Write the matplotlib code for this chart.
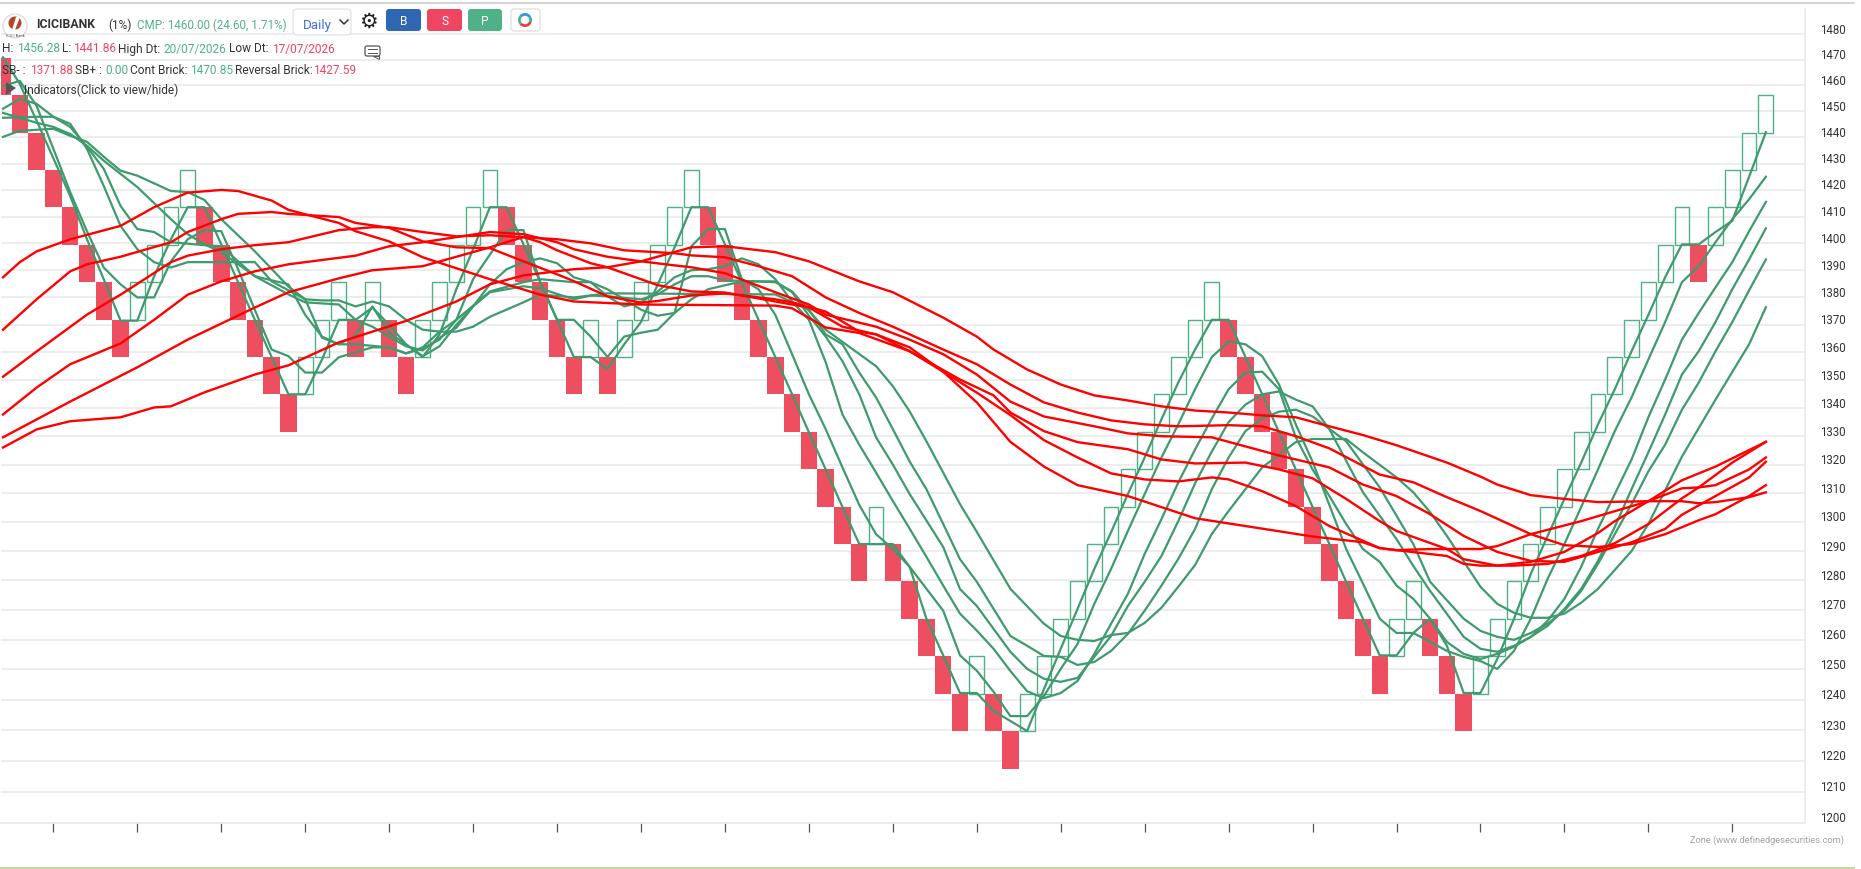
#!/usr/bin/env python3
import matplotlib
matplotlib.use('Agg')
import matplotlib.pyplot as plt
from matplotlib.patches import Circle, FancyBboxPatch, Polygon, Rectangle, Wedge
from matplotlib.ticker import NullLocator, NullFormatter

plt.rcParams['font.family'] = ['Roboto', 'DejaVu Sans']

# renko bricks, 1% box on a log scale
brick_open = [1470.85, 1456.28, 1441.86, 1427.59, 1413.46, 1399.47, 1385.62, 1371.90, 1371.90, 1385.62,
              1399.47, 1413.46, 1413.46, 1399.47, 1385.62, 1371.90, 1358.32, 1344.87, 1344.87, 1358.32,
              1371.90, 1371.90, 1371.90, 1371.90, 1358.32, 1358.32, 1371.90, 1385.62, 1399.47, 1413.46,
              1413.46, 1399.47, 1385.62, 1371.90, 1358.32, 1358.32, 1358.32, 1358.32, 1371.90, 1385.62,
              1399.47, 1413.46, 1413.46, 1399.47, 1385.62, 1371.90, 1358.32, 1344.87, 1331.56, 1318.37,
              1305.32, 1292.40, 1292.40, 1292.40, 1279.60, 1266.93, 1254.39, 1241.97, 1241.97, 1241.97,
              1229.67, 1229.67, 1241.97, 1254.39, 1266.93, 1279.60, 1292.40, 1305.32, 1318.37, 1331.56,
              1344.87, 1358.32, 1371.90, 1371.90, 1358.32, 1344.87, 1331.56, 1318.37, 1305.32, 1292.40,
              1279.60, 1266.93, 1254.39, 1254.39, 1266.93, 1266.93, 1254.39, 1241.97, 1241.97, 1254.39,
              1266.93, 1279.60, 1292.40, 1305.32, 1318.37, 1331.56, 1344.87, 1358.32, 1371.90, 1385.62,
              1399.47, 1399.47, 1399.47, 1413.46, 1427.59, 1441.86]
brick_close = [1456.28, 1441.86, 1427.59, 1413.46, 1399.47, 1385.62, 1371.90, 1358.32, 1385.62, 1399.47,
               1413.46, 1427.59, 1399.47, 1385.62, 1371.90, 1358.32, 1344.87, 1331.56, 1358.32, 1371.90,
               1385.62, 1358.32, 1385.62, 1358.32, 1344.87, 1371.90, 1385.62, 1399.47, 1413.46, 1427.59,
               1399.47, 1385.62, 1371.90, 1358.32, 1344.87, 1371.90, 1344.87, 1371.90, 1385.62, 1399.47,
               1413.46, 1427.59, 1399.47, 1385.62, 1371.90, 1358.32, 1344.87, 1331.56, 1318.37, 1305.32,
               1292.40, 1279.60, 1305.32, 1279.60, 1266.93, 1254.39, 1241.97, 1229.67, 1254.39, 1229.67,
               1217.50, 1241.97, 1254.39, 1266.93, 1279.60, 1292.40, 1305.32, 1318.37, 1331.56, 1344.87,
               1358.32, 1371.90, 1385.62, 1358.32, 1344.87, 1331.56, 1318.37, 1305.32, 1292.40, 1279.60,
               1266.93, 1254.39, 1241.97, 1266.93, 1279.60, 1254.39, 1241.97, 1229.67, 1254.39, 1266.93,
               1279.60, 1292.40, 1305.32, 1318.37, 1331.56, 1344.87, 1358.32, 1371.90, 1385.62, 1399.47,
               1413.46, 1385.62, 1413.46, 1427.59, 1441.86, 1456.28]

# short averages (green)
g1_cols = list(range(106))
g1_vals = [1471, 1460.6, 1446.4, 1432, 1417.7, 1401.5, 1386.7, 1371.5, 1371.5, 1387.8,
           1401.5, 1413.5, 1413.5, 1399.6, 1385.6, 1371.8, 1358.3, 1344.9, 1344.9, 1357.4,
           1371.8, 1371.8, 1376.3, 1370, 1362.9, 1358.3, 1366.5, 1383, 1397.8, 1413.5,
           1413.5, 1399.6, 1385.6, 1371.8, 1358.3, 1358.3, 1354, 1362.9, 1371, 1384.8,
           1398.5, 1413.5, 1413.5, 1399.6, 1385.6, 1371.8, 1358.3, 1344.9, 1331.4, 1318.3,
           1305.2, 1292.4, 1292.4, 1292.4, 1284.6, 1267, 1254.7, 1242.2, 1242.2, 1236.3,
           1233, 1229.7, 1243.5, 1256.9, 1270.3, 1283.9, 1296.5, 1309.7, 1322.5, 1336,
           1349.1, 1361, 1371.8, 1371.8, 1358.3, 1344.9, 1331.4, 1318.3, 1305.2, 1292.4,
           1279.5, 1267, 1254.7, 1254.7, 1262.2, 1267, 1257.9, 1242.2, 1242.2, 1253.5,
           1267, 1282.2, 1295.2, 1308, 1320.7, 1334.2, 1346.7, 1360.4, 1373.6, 1387.4,
           1399.6, 1399.6, 1404.2, 1408.4, 1425, 1442]

g2_cols = [0, 1, 2, 3, 4, 5, 6, 7, 8, 9, 10, 11, 12, 13, 14, 15, 16, 17, 18, 19, 20, 21, 22, 23, 24, 25, 26, 27,
           28, 29, 30, 31, 32, 33, 34, 35, 36, 37, 38, 39, 40, 41, 42, 43, 44, 45, 46, 47, 48, 49, 50, 51, 52, 53,
           54, 56, 57, 58, 59, 60, 61, 62, 63, 64, 65, 66, 67, 68, 69, 70, 71, 72, 73, 74, 75, 76, 77, 78, 79, 80,
           81, 82, 83, 84, 85, 86, 87, 88, 89, 90, 91, 92, 93, 94, 95, 96, 97, 98, 99, 100, 101, 102, 103, 104, 105]
g2_vals = [1459.8, 1461.8, 1452.1, 1435.6, 1419.2, 1404.5, 1391, 1384.8, 1380, 1380, 1393.3, 1401.5, 1404.9,
           1404.5, 1390.4, 1375.4, 1361, 1358.6, 1352.7, 1352.7, 1358.2, 1360, 1361.8, 1361.8, 1359.6, 1361.4,
           1364.6, 1371.8, 1386.7, 1395.8, 1404.9, 1404.9, 1385.6, 1371.8, 1371.8, 1365.7, 1358.3, 1365.7,
           1367.1, 1368.2, 1374.3, 1398.9, 1405.3, 1405.3, 1386.7, 1383, 1373.6, 1359.3, 1344.9, 1332.5, 1319,
           1305.9, 1295.8, 1290.7, 1284.6, 1269.7, 1254.7, 1249.6, 1242.6, 1234.6, 1234.6, 1241.2, 1250.2,
           1258.5, 1272, 1283.9, 1296.9, 1309.7, 1322.5, 1334.2, 1346.7, 1358.3, 1363.9, 1362.9, 1358.6, 1348.4,
           1334.2, 1321, 1305.9, 1290.7, 1278.9, 1267, 1262.2, 1262.2, 1259.2, 1256.2, 1254.2, 1252.8, 1250.2,
           1256.2, 1267, 1280.5, 1292.4, 1305.2, 1318.3, 1331.8, 1343.8, 1357.4, 1371, 1385.6, 1391.5, 1400.4,
           1409, 1416.5, 1425]

g3_cols = [0, 1, 2, 3, 4, 5, 6, 7, 8, 9, 10, 11, 15, 16, 18, 19, 20, 21, 22, 23, 24, 25, 26, 27, 28, 29, 30, 31,
           32, 33, 34, 35, 36, 37, 38, 39, 40, 41, 42, 43, 44, 45, 46, 47, 48, 49, 50, 51, 52, 53, 54, 55, 56, 57,
           58, 59, 60, 61, 62, 63, 64, 65, 66, 67, 68, 69, 70, 71, 72, 73, 74, 75, 76, 77, 78, 79, 80, 81, 82, 83,
           84, 85, 86, 87, 88, 89, 90, 91, 92, 93, 94, 95, 96, 97, 98, 99, 100, 101, 102, 103, 104, 105]
g3_vals = [1451, 1454.8, 1452.9, 1447.9, 1445.2, 1435.6, 1421.5, 1406.5, 1397.8, 1393, 1391, 1393, 1393, 1385.9,
           1379.3, 1365.3, 1362.9, 1366.1, 1376.7, 1367.1, 1362.9, 1358.6, 1362.2, 1370, 1376.7, 1384.8, 1390.4,
           1393, 1394.4, 1392.6, 1387.4, 1385.6, 1380.4, 1376.7, 1378.2, 1382.2, 1387.4, 1390, 1390.4, 1391.5,
           1394.4, 1392.2, 1386.7, 1378.5, 1371.8, 1356.4, 1337.7, 1327, 1317.2, 1307.3, 1297.7, 1288, 1278.2,
           1268.7, 1263, 1256.9, 1249.5, 1242.8, 1240.5, 1242.2, 1246.2, 1255.2, 1265.3, 1275.4, 1289, 1301,
           1313.7, 1325.3, 1336.3, 1346.7, 1352.7, 1353, 1346.7, 1329.6, 1318.3, 1309, 1299.3, 1290.7, 1286.3,
           1278.2, 1273.7, 1267, 1259.2, 1255.2, 1253.5, 1255.2, 1257.6, 1260.9, 1266.3, 1273.7, 1284.6, 1297.6,
           1309.7, 1321.8, 1336.7, 1350.2, 1364.6, 1374.3, 1383.7, 1393, 1404.5, 1415.5]

g4_cols = [0, 2, 3, 4, 5, 6, 7, 8, 9, 10, 12, 13, 15, 17, 18, 19, 20, 21, 23, 24, 25, 26, 27, 29, 31, 32, 34, 35,
           36, 37, 38, 39, 40, 41, 42, 44, 46, 47, 48, 49, 50, 51, 52, 53, 54, 56, 57, 58, 60, 61, 62, 63, 64, 65,
           66, 67, 68, 69, 70, 71, 72, 73, 74, 75, 76, 77, 78, 79, 81, 83, 84, 85, 87, 88, 89, 90, 91, 92, 93, 94,
           95, 96, 97, 98, 99, 100, 101, 102, 103, 104, 105]
g4_vals = [1447.5, 1447.9, 1447.9, 1444, 1436.4, 1428, 1414, 1405.3, 1404.2, 1400.4, 1399.3, 1398.9, 1387.8,
           1384.8, 1373.6, 1365.7, 1362.9, 1362.9, 1361.8, 1359.6, 1361.8, 1367.5, 1371.8, 1382.2, 1385.6,
           1386.7, 1385.6, 1385.6, 1383, 1379.3, 1375.5, 1373.3, 1374.3, 1379.3, 1383, 1385.9, 1385.9, 1381.9,
           1373.3, 1365.7, 1356.8, 1344.9, 1329.6, 1320, 1309.7, 1291.4, 1277, 1271.3, 1255.9, 1250.2, 1246.9,
           1245.9, 1247.2, 1254.2, 1261.2, 1271.3, 1279.5, 1288.3, 1300.3, 1313.4, 1324.6, 1335, 1341.2, 1344.9,
           1345.9, 1343, 1340.6, 1332.5, 1310.3, 1294.1, 1284.9, 1276.4, 1260.9, 1256.9, 1255.9, 1257.9, 1260.9,
           1264.6, 1270.3, 1277.1, 1286.6, 1298.3, 1311.4, 1324.3, 1337.7, 1352, 1360.4, 1371, 1383, 1394, 1405.6]

g5_cols = [0, 2, 3, 4, 5, 6, 8, 10, 11, 12, 13, 15, 17, 18, 20, 21, 22, 23, 24, 25, 26, 27, 28, 29, 31, 32, 34, 35,
           36, 46, 48, 49, 50, 51, 52, 53, 54, 55, 56, 57, 58, 60, 61, 62, 63, 64, 65, 66, 67, 68, 69, 70, 71, 72,
           73, 74, 75, 76, 77, 78, 80, 82, 84, 85, 87, 88, 89, 90, 91, 92, 93, 94, 95, 96, 97, 98, 99, 100, 101,
           102, 103, 104, 105]
g5_vals = [1449.4, 1445.6, 1444, 1441.3, 1436.8, 1431.1, 1421.1, 1409, 1403.4, 1399.6, 1396.7, 1387.8, 1381.1,
           1378.2, 1377.4, 1371.8, 1369.3, 1365.7, 1362.2, 1360.7, 1365.3, 1368.9, 1376.7, 1381.9, 1384.1,
           1383.3, 1379.3, 1380.7, 1381.5, 1381.1, 1375.5, 1366.5, 1362.9, 1352.7, 1343.8, 1332.5, 1321.1,
           1311.4, 1299.3, 1287.2, 1279.5, 1261.2, 1257.9, 1254.5, 1254.2, 1251.5, 1252.5, 1256.2, 1261.9,
           1269.7, 1278.2, 1287.3, 1297.6, 1311.4, 1322.5, 1331.8, 1336.3, 1338.7, 1339.4, 1337, 1328.2, 1312,
           1292.4, 1279.5, 1267, 1262.9, 1260.9, 1259.9, 1262.2, 1265.3, 1269.7, 1276.4, 1285.6, 1295.8, 1306.2,
           1317.6, 1327, 1339.4, 1349.1, 1360.4, 1371, 1382.6, 1394]

g6_cols = [0, 1, 3, 4, 5, 6, 7, 8, 10, 11, 12, 13, 15, 17, 18, 19, 20, 21, 22, 23, 24, 25, 26, 27, 28, 29, 31, 32,
           34, 35, 36, 38, 39, 40, 41, 42, 43, 46, 47, 49, 52, 53, 54, 55, 57, 58, 60, 62, 63, 64, 65, 66, 67, 68,
           69, 70, 71, 72, 73, 75, 77, 78, 80, 81, 83, 84, 85, 86, 88, 89, 90, 91, 92, 93, 94, 95, 97, 98, 100,
           102, 104, 105]
g6_vals = [1440.2, 1442.5, 1443.3, 1440.6, 1438.3, 1432.6, 1427.3, 1425.4, 1419.6, 1419.2, 1416.2, 1409, 1397,
           1384, 1379.3, 1378.9, 1378.9, 1376.7, 1378.5, 1376.7, 1371.8, 1368.2, 1367.5, 1367.5, 1369.3, 1372.9,
           1378.2, 1381.1, 1380, 1380.7, 1380.4, 1379.3, 1381.1, 1384.8, 1387.8, 1387.8, 1386.3, 1385.6, 1382.2,
           1368.2, 1355, 1347.8, 1338.8, 1328.2, 1306.2, 1296.6, 1277.1, 1265.3, 1261.2, 1259.9, 1259.5, 1261.5,
           1262.2, 1265.6, 1270.7, 1277.8, 1285.2, 1295.9, 1303.8, 1319, 1327.9, 1329, 1329, 1324.3, 1315.5,
           1310.3, 1303.4, 1295.2, 1277.8, 1272, 1269, 1267.3, 1267.3, 1268.7, 1272.4, 1277.1, 1290, 1299.3,
           1322.8, 1343, 1362.9, 1376.4]

# long averages (red)
r1_cols = [0, 1, 2, 4, 7, 9, 11, 13, 14, 16, 17, 20, 21, 23, 25, 29, 32, 34, 38, 46, 47, 49, 51, 54, 56, 58, 60,
           62, 64, 67, 71, 74, 78, 81, 82, 83, 85, 88, 89, 91, 94, 98, 100, 102, 105]
r1_vals = [1387.4, 1393, 1397, 1401.5, 1406.5, 1413.5, 1419, 1420, 1419.6, 1416, 1412.5, 1407.6, 1404.5, 1400.7,
           1394.8, 1386.7, 1381, 1378.5, 1377.4, 1377, 1376, 1369, 1367, 1360.4, 1353, 1342, 1328, 1319.3, 1312.8,
           1309, 1301.3, 1298.6, 1295, 1293, 1291, 1290.3, 1290.7, 1290.7, 1291.7, 1295.8, 1300.3, 1307.2, 1314.5,
           1319.3, 1328]

r2_cols = [0, 2, 4, 5, 7, 10, 11, 13, 14, 16, 17, 20, 21, 23, 25, 27, 29, 31, 33, 34, 36, 38, 39, 41, 43, 46, 47,
           49, 51, 52, 54, 56, 58, 60, 62, 64, 66, 68, 70, 72, 73, 75, 77, 79, 82, 83, 86, 87, 88, 90, 92, 94, 96,
           98, 100, 101, 103, 105]
r2_vals = [1368.2, 1379.3, 1389.6, 1392.2, 1395, 1400.4, 1404.2, 1409, 1411, 1411.7, 1411, 1409.8, 1407.6, 1405.8,
           1400.7, 1398.5, 1398.2, 1393.3, 1388.5, 1386, 1380.4, 1378.1, 1378.7, 1380.7, 1381.5, 1379.3, 1378.2,
           1374.8, 1367.5, 1366.5, 1361.8, 1353, 1345.5, 1337.5, 1328.6, 1322.5, 1316.9, 1314.8, 1314.1, 1315.5,
           1314.8, 1310.7, 1305.5, 1298.6, 1291, 1290.3, 1288.3, 1285.6, 1285, 1285, 1285.6, 1288.3, 1292.7, 1299.3,
           1308.2, 1312, 1320.7, 1328]

r3_cols = [0, 2, 5, 7, 10, 11, 13, 15, 17, 20, 22, 23, 25, 27, 29, 31, 32, 33, 35, 36, 39, 40, 41, 43, 46, 48, 50,
           52, 54, 57, 59, 60, 62, 64, 67, 69, 71, 74, 76, 78, 80, 82, 83, 86, 87, 89, 91, 93, 95, 96, 98, 100, 101,
           102, 104, 105]
r3_vals = [1351.2, 1360.3, 1373.7, 1381, 1393, 1395.4, 1397.8, 1399.3, 1400.4, 1404.9, 1406, 1406, 1404.2, 1402.6,
           1403, 1402.3, 1400.4, 1397.4, 1392.6, 1391.1, 1384.5, 1383.4, 1382.2, 1381.8, 1378.5, 1376.3, 1369.3,
           1366.5, 1360.4, 1350.2, 1344.5, 1338.4, 1331.8, 1327.9, 1325.4, 1321.8, 1320.4, 1320.7, 1318.3, 1315.2,
           1308, 1300.3, 1296.9, 1290.7, 1287.2, 1285, 1286.3, 1289.7, 1296.2, 1300.3, 1307.2, 1311.7, 1312, 1312.8,
           1318.3, 1322.5]

r4_cols = [0, 2, 4, 7, 9, 11, 13, 15, 17, 21, 23, 25, 27, 29, 31, 33, 34, 36, 38, 40, 41, 43, 46, 48, 49, 52, 54,
           56, 58, 60, 62, 65, 67, 69, 72, 74, 76, 79, 81, 83, 85, 87, 89, 91, 93, 95, 97, 99, 100, 102, 104, 105]
r4_vals = [1337.7, 1347.3, 1355.7, 1363.2, 1371.8, 1381, 1385.9, 1389.6, 1392.2, 1395.4, 1398.9, 1400.4, 1402.3,
           1404.2, 1403.4, 1400.4, 1397.8, 1395, 1393.3, 1391.8, 1391.1, 1388.9, 1381.9, 1377.4, 1373.7, 1369.3,
           1364.6, 1359.3, 1352, 1342.3, 1337, 1333.5, 1331, 1330, 1329.6, 1326.4, 1323.2, 1319, 1313, 1309, 1302.7,
           1295.2, 1289.7, 1286.6, 1286.3, 1289.7, 1293, 1297.6, 1302.5, 1309, 1315.5, 1321]

r5_cols = [0, 4, 8, 11, 15, 17, 20, 22, 25, 27, 29, 31, 33, 35, 37, 40, 41, 43, 45, 47, 49, 51, 53, 56, 58, 60, 62,
           64, 66, 68, 70, 73, 75, 77, 79, 82, 84, 86, 88, 91, 93, 95, 97, 99, 101, 102, 104, 105]
r5_vals = [1329.6, 1342.3, 1354.6, 1364.6, 1376.3, 1381.9, 1387, 1390, 1391.5, 1395, 1398.5, 1402.3, 1401.5, 1400,
           1397.4, 1396.3, 1395.5, 1394.8, 1391.5, 1387.8, 1380, 1374.3, 1369.3, 1361, 1355.7, 1348.4, 1342, 1338.4,
           1335.6, 1334.2, 1333.5, 1333.9, 1333.5, 1330, 1325.7, 1316.5, 1313.8, 1308.6, 1303.8, 1295.8, 1292,
           1291.4, 1292.4, 1295.8, 1300.6, 1302.7, 1309, 1312.8]

r6_cols = [0, 2, 4, 7, 9, 10, 12, 15, 17, 20, 24, 27, 29, 31, 34, 36, 38, 41, 43, 46, 48, 51, 53, 56, 58, 59, 61,
           63, 65, 67, 69, 71, 73, 75, 77, 79, 81, 83, 86, 88, 89, 91, 93, 95, 98, 100, 101, 102, 104, 105]
r6_vals = [1326, 1332.4, 1335.3, 1336.7, 1340.2, 1340.6, 1345.6, 1352, 1355.3, 1363.6, 1371.4, 1378.5, 1384.8, 1388.1,
           1390.4, 1391.1, 1393.3, 1398.5, 1398.9, 1396.7, 1393.3, 1385.9, 1381.9, 1372.6, 1365.7, 1361, 1353.8,
           1348.4, 1344.5, 1342.7, 1340.6, 1339.1, 1338.4, 1337.4, 1336.7, 1333.5, 1330.4, 1326.8, 1320.7, 1315.8,
           1313, 1309.3, 1308, 1306.9, 1307.2, 1307.2, 1306.5, 1306.9, 1308.6, 1310.3]

price_ticks = list(range(1200, 1490, 10))
x_ticks = list(range(3, 106, 5))

RED = '#ee4f60'
HOLLOW = '#4fb286'
LINE_GREEN = '#3f9a6e'
LINE_RED = '#ff0000'
GRID = '#e8e8e8'
TEXT = '#333333'
UP = '#4fb286'
DOWN = '#ef4560'

W, H = 1861, 870
fig = plt.figure(figsize=(W / 100, H / 100), dpi=100, facecolor='white')

# plot area: px 1..1805 across, px 10..824 down
ax = fig.add_axes([1 / W, (H - 824) / H, 1804 / W, 814 / H])
ax.set_yscale('log')
ax.set_ylim(1200, 1490)
ax.set_xlim(-0.12, 107.33)

ax.yaxis.set_minor_locator(NullLocator())
ax.yaxis.set_minor_formatter(NullFormatter())
ax.set_yticks(price_ticks)
ax.set_yticklabels([])
ax.tick_params(axis='y', length=0)
ax.grid(axis='y', color=GRID, lw=1.1, zorder=0)
ax.set_axisbelow(True)
ax.set_xticks(x_ticks)
ax.set_xticklabels([])
ax.tick_params(axis='x', length=6.5, width=0.9, color='#555555', direction='out')

for side in ['top', 'left']:
    ax.spines[side].set_visible(False)
for side in ['bottom', 'right']:
    ax.spines[side].set_color(GRID)
    ax.spines[side].set_linewidth(1.1)

for p in price_ticks:
    ax.annotate(str(p), xy=(1, p), xycoords=('axes fraction', 'data'), xytext=(15, 1.5),
                textcoords='offset pixels', fontsize=8.3, color=TEXT, va='baseline', ha='left',
                annotation_clip=False)

for i in range(len(brick_open)):
    top = max(brick_open[i], brick_close[i])
    bot = min(brick_open[i], brick_close[i])
    if brick_close[i] < brick_open[i]:
        ax.bar(i, top - bot, bottom=bot, width=0.98, color=RED, linewidth=0, zorder=2)
    else:
        ax.bar(i, top - bot, bottom=bot, width=0.88, facecolor='none', edgecolor=HOLLOW,
               linewidth=1.0, zorder=2)

green_lines = [(g1_cols, g1_vals), (g2_cols, g2_vals), (g3_cols, g3_vals),
               (g4_cols, g4_vals), (g5_cols, g5_vals), (g6_cols, g6_vals)]
red_lines = [(r1_cols, r1_vals), (r2_cols, r2_vals), (r3_cols, r3_vals),
             (r4_cols, r4_vals), (r5_cols, r5_vals), (r6_cols, r6_vals)]
for cols, vals in green_lines:
    ax.plot(cols, vals, color=LINE_GREEN, lw=1.6, zorder=3, solid_joinstyle='round')
for cols, vals in red_lines:
    ax.plot(cols, vals, color=LINE_RED, lw=1.7, zorder=4, solid_joinstyle='round')

# page furniture, drawn in pixel coordinates
ui = fig.add_axes([0, 0, 1, 1], zorder=5)
ui.set_xlim(0, W)
ui.set_ylim(H, 0)
ui.axis('off')
ui.patch.set_alpha(0)

ui.plot([0, 1854], [3.5, 3.5], color='#cccccc', lw=1.2)
ui.plot([0, 1854], [868.5, 868.5], color='#c9d6a0', lw=1.6)

# logo
ui.add_patch(Circle((15, 27), 12, facecolor='white', edgecolor='#d8d8d8', lw=0.8))
ui.add_patch(Circle((15, 24), 6.5, facecolor='#b5442a', edgecolor='none'))
ui.add_patch(Polygon([(12, 31), (16, 18), (20, 18), (15, 31)], facecolor='white', edgecolor='none'))
ui.text(15, 36, 'ICICI Bank', fontsize=3, ha='center', va='center', color='#555555')


def label(x, y, s, color=TEXT, size=8.6, **kw):
    ui.text(x, y, s, color=color, fontsize=size, va='center', ha='left', **kw)


label(36, 25, 'ICICIBANK', weight='bold', size=8.8)
label(108, 25, '(1%)')
label(137, 25, 'CMP: 1460.00 (24.60, 1.71%)', color=UP, size=8.4)

ui.add_patch(FancyBboxPatch((293, 10), 58, 26, boxstyle='round,pad=0,rounding_size=4',
                            facecolor='white', edgecolor='#dde3ea', lw=0.9))
label(303, 25, 'Daily', color='#3f6fd8', size=9.6)
ui.plot([340, 344, 348], [21, 25, 21], color='#333333', lw=1.1)

ui.text(368, 22, '\u2699', fontsize=15, color='#222222', ha='center', va='center', family='DejaVu Sans')

for x0, x1, c, s in [(386, 421, '#2f67b2', 'B'), (427, 462, DOWN, 'S'), (468, 502, UP, 'P')]:
    ui.add_patch(FancyBboxPatch((x0, 10), x1 - x0, 22, boxstyle='round,pad=0,rounding_size=3',
                                facecolor=c, edgecolor='none'))
    ui.text((x0 + x1) / 2, 21.5, s, color='white', fontsize=8.6, ha='center', va='center')

ui.add_patch(FancyBboxPatch((511, 10), 29, 22, boxstyle='round,pad=0,rounding_size=3',
                            facecolor='white', edgecolor='#e2e2e2', lw=1.0))
for a, b, c in [(20, 140, '#ef3b3b'), (140, 220, '#4fb286'), (220, 330, '#2f9bd8'), (330, 380, '#27b7a5')]:
    ui.add_patch(Wedge((525, 21), 7, a, b, width=2.8, facecolor=c, edgecolor='none'))

y2 = 49
label(2, y2, 'H:')
label(17, y2, '1456.28', color=UP)
label(62, y2, 'L:')
label(73, y2, '1441.86', color=DOWN)
label(118, y2, 'High Dt:')
label(164, y2, '20/07/2026', color=UP)
label(229, y2, 'Low Dt:')
label(272, y2, '17/07/2026', color=DOWN)

ui.add_patch(FancyBboxPatch((365, 47), 15, 10, boxstyle='round,pad=0,rounding_size=2',
                            facecolor='white', edgecolor='#555555', lw=0.9))
ui.plot([368, 377], [50, 50], color='#555555', lw=0.7)
ui.plot([368, 377], [53.5, 53.5], color='#555555', lw=0.7)
ui.add_patch(Polygon([(373, 57), (379, 57), (379, 60)], facecolor='white', edgecolor='#555555', lw=0.7))

y3 = 71
label(2, y3, 'SB- :')
label(30, y3, '1371.88', color=DOWN)
label(75, y3, 'SB+ :')
label(105, y3, '0.00', color=UP)
label(130, y3, 'Cont Brick:')
label(190, y3, '1470.85', color=UP)
label(235, y3, 'Reversal Brick:')
label(313, y3, '1427.59', color=DOWN)

ui.add_patch(Polygon([(6, 83), (16, 89), (6, 96)], facecolor='#555555', edgecolor='none'))
label(24, 90, 'Indicators(Click to view/hide)')

ui.text(1844, 840.5, 'Zone (www.definedgesecurities.com)', color='#a3a3a3', fontsize=6.7,
        ha='right', va='center')

fig.savefig('out.png', dpi=100, facecolor='white')
plt.close()
